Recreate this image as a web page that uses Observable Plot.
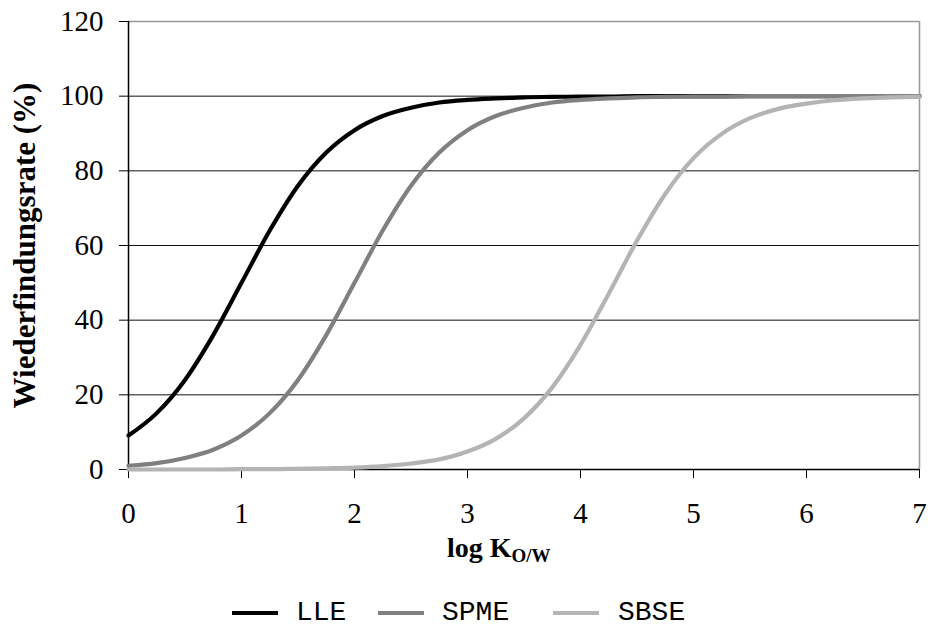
<!DOCTYPE html>
<html>
<head>
<meta charset="utf-8">
<script src="https://cdn.jsdelivr.net/npm/d3@7"></script>
<script src="https://cdn.jsdelivr.net/npm/@observablehq/plot@0.6"></script>
<style>
  html, body { margin: 0; padding: 0; background: #fff; }
  #wrap { position: relative; width: 928px; height: 630px; overflow: hidden; }
  #chart { position: absolute; left: 0; top: 0; }
  #xlabel { position: absolute; left: 447px; top: 534px; font-family: "Liberation Serif", serif; font-weight: bold; font-size: 28px; line-height: 28px; white-space: nowrap; color: #000; }
  #xlabel sub { font-size: 19px; vertical-align: -5px; line-height: 0; }
  .leg { position: absolute; font-family: "Liberation Mono", monospace; font-size: 28px; line-height: 29px; top: 598px; color: #000; white-space: nowrap; }
  .sw { position: absolute; height: 4px; top: 611px; }
</style>
</head>
<body>
<div id="wrap">
  <div id="chart"></div>
  <div id="xlabel">log K<sub>O/W</sub></div>
</div>
<script>
// x positions (log K O/W)
const logK = [0, 0.25, 0.5, 0.75, 1, 1.25, 1.5, 1.75, 2, 2.25, 2.5, 2.75, 3, 3.25, 3.5, 3.75, 4, 4.25, 4.5, 4.75, 5, 5.25, 5.5, 5.75, 6, 6.25, 6.5, 6.75, 7];
// recovery (%)
const lle  = [9.1, 15.1, 24.0, 36.0, 50.0, 64.0, 76.0, 84.9, 90.9, 94.7, 96.9, 98.3, 99.0, 99.4, 99.7, 99.8, 99.9, 99.9, 100, 100, 100, 100, 100, 100, 100, 100, 100, 100, 100];
const spme = [1.0, 1.7, 3.1, 5.3, 9.1, 15.1, 24.0, 36.0, 50.0, 64.0, 76.0, 84.9, 90.9, 94.7, 96.9, 98.3, 99.0, 99.4, 99.7, 99.8, 99.9, 99.9, 100, 100, 100, 100, 100, 100, 100];
const sbse = [0.0, 0.0, 0.0, 0.0, 0.1, 0.1, 0.2, 0.3, 0.5, 0.9, 1.6, 2.7, 4.8, 8.2, 13.7, 22.0, 33.4, 47.1, 61.3, 73.8, 83.4, 89.9, 94.1, 96.6, 98.0, 98.9, 99.4, 99.7, 99.8];
const seriesNames = ["LLE", "SPME", "SBSE"];
const seriesColors = ["#000000", "#808080", "#b4b4b4"];
const xTicks = [0, 1, 2, 3, 4, 5, 6, 7];
const yTicks = [0, 20, 40, 60, 80, 100, 120];
const yLabel = "Wiederfindungsrate (%)";

const seriesValues = [lle, spme, sbse];
const rows = seriesNames.flatMap((name, i) => logK.map((x, j) => ({series: name, x, y: seriesValues[i][j]})));

const chart = Plot.plot({
  width: 928,
  height: 532,
  marginLeft: 128,
  marginRight: 9,
  marginTop: 21,
  marginBottom: 63,
  style: {fontFamily: "'Liberation Serif', serif", fontSize: "29px", color: "#000", background: "#fff"},
  x: {domain: [0, 7]},
  y: {domain: [0, 120]},
  color: {domain: seriesNames, range: seriesColors},
  marks: [
    Plot.ruleY(yTicks.filter(d => d > 0 && d < 120), {stroke: "#111", strokeWidth: 1}),
    Plot.ruleY([120], {stroke: "#999", strokeWidth: 1.5}),
    Plot.ruleX([7], {stroke: "#999", strokeWidth: 1.5}),
    Plot.ruleX([0], {stroke: "#000", strokeWidth: 1.5}),
    Plot.ruleY([0], {stroke: "#000", strokeWidth: 1.5}),
    Plot.axisX({ticks: xTicks, tickFormat: d => String(d), tickSize: 9, tickPadding: 24, fontSize: 29, label: null, stroke: "#000"}),
    Plot.axisY({ticks: yTicks, tickFormat: d => String(d), tickSize: 9, tickPadding: 16, fontSize: 29, label: null, stroke: "#000"}),
    Plot.line(rows, {x: "x", y: "y", z: "series", stroke: "series", strokeWidth: 4.2, curve: "monotone-x"}),
    Plot.text([yLabel], {text: d => d, frameAnchor: "left", rotate: -90, dx: -103, fontSize: 31, fontWeight: "bold", textAnchor: "middle", lineAnchor: "middle", fill: "#000"})
  ]
});
document.getElementById("chart").appendChild(chart);

// legend (below the plot)
const wrap = document.getElementById("wrap");
const swatchLeft = [232, 378, 553];
const textLeft = [296, 442, 618];
seriesNames.forEach((name, i) => {
  const sw = document.createElement("div");
  sw.className = "sw";
  sw.style.left = swatchLeft[i] + "px";
  sw.style.width = "46px";
  sw.style.background = seriesColors[i];
  wrap.appendChild(sw);
  const t = document.createElement("div");
  t.className = "leg";
  t.style.left = textLeft[i] + "px";
  t.textContent = name;
  wrap.appendChild(t);
});
</script>
</body>
</html>
